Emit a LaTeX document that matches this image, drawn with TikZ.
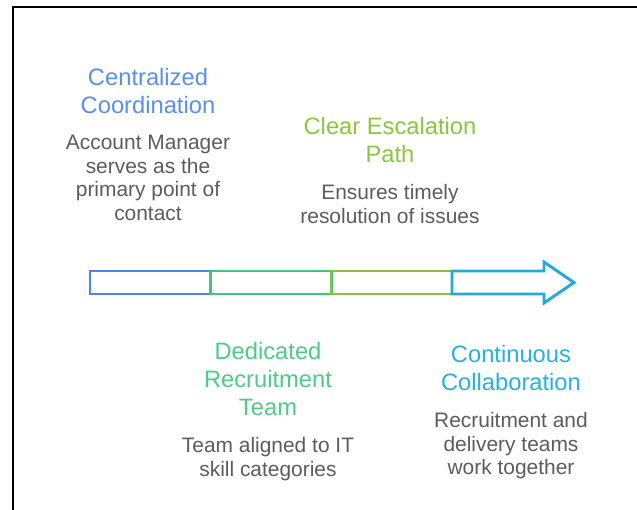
\documentclass[tikz,border=0pt]{standalone}
\usepackage{fontspec}
\setmainfont{Liberation Sans}
\usepackage{xcolor}
\usetikzlibrary{positioning}

\definecolor{cblue}{HTML}{4C84EC}
\definecolor{cgreen}{HTML}{3DC77E}
\definecolor{colive}{HTML}{8DBF3A}
\definecolor{ccyan}{HTML}{22AADD}
\definecolor{tblue}{HTML}{5B8FEF}
\definecolor{tgreen}{HTML}{4DCB88}
\definecolor{tolive}{HTML}{8CC63F}
\definecolor{tcyan}{HTML}{2AB0E0}
\definecolor{cgrey}{HTML}{5C5C5C}

\begin{document}
\begin{tikzpicture}[
    x=0.75pt, y=-0.75pt,
    node distance=16pt,
    seg/.style={rectangle, draw, line width=2.2pt, minimum width=90.75pt, minimum height=17.25pt, inner sep=0pt, outer sep=0pt},
    heading/.style={align=center, inner sep=0pt, anchor=north, font=\fontsize{17.8}{21}\selectfont},
    desc/.style={align=center, inner sep=0pt, text=cgrey, font=\fontsize{15.7}{17.6}\selectfont}
]
    \useasboundingbox (0,0) rectangle (637,510);
    \draw[line width=1.5pt] (13,510) -- (13,7) -- (637,7);

    % timeline bar
    \node[seg, draw=cblue] (s1) at (150.5,282.5) {};
    \node[seg, draw=cgreen] (s2) at (271,282.5) {};
    \node[seg, draw=colive] (s3) at (391.5,282.5) {};
    \draw[line width=2.2pt, draw=ccyan] (s3.north east) -- (544,271) -- (544,262) -- (574,282.5)
        -- (544,303) -- (544,294) -- (s3.south east) -- cycle;

    % labels above
    \node[heading, text=tblue] (t1) at (148,68) {Centralized\\Coordination};
    \node[desc, below=of t1] (d1) {Account Manager\\serves as the\\primary point of\\contact};
    \node[heading, text=tolive] (t3) at (390,117) {Clear Escalation\\Path};
    \node[desc, below=of t3] (d3) {Ensures timely\\resolution of issues};

    % labels below
    \node[heading, text=tgreen] (t2) at (268,342) {Dedicated\\Recruitment\\Team};
    \node[desc, below=of t2] (d2) {Team aligned to IT\\skill categories};
    \node[heading, text=tcyan] (t4) at (511,345) {Continuous\\Collaboration};
    \node[desc, below=of t4] (d4) {Recruitment and\\delivery teams\\work together};
\end{tikzpicture}
\end{document}
